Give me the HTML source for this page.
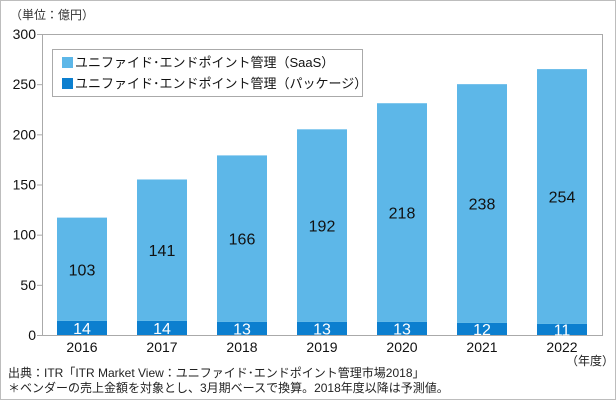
<!DOCTYPE html>
<html><head><meta charset="utf-8"><style>
body{margin:0;background:#fff}
svg{display:block;font-family:"Liberation Sans","Noto Sans CJK JP",sans-serif}
</style></head><body>
<svg id="c" width="616" height="400">
<rect x="0.5" y="0.5" width="615" height="399" fill="#fff" stroke="#bdbdbd"/>
<text x="10" y="19" font-size="12" fill="#333">（単位：億円）</text>
<rect x="42.5" y="34.5" width="560" height="301" fill="none" stroke="#aaa"/>
<g id="yax"></g>
<g id="bars"></g>
<g id="xax"></g>
<g>
<rect x="52.5" y="49.5" width="310" height="47" fill="#fff" stroke="#aaa"/>
<rect x="62" y="57" width="11" height="11" fill="#5db7e8"/>
<text x="75" y="67" font-size="13" fill="#111">ユニファイド･エンドポイント管理（SaaS）</text>
<rect x="62" y="78" width="11" height="11" fill="#0c7fcf"/>
<text x="75" y="88" font-size="13" fill="#111">ユニファイド･エンドポイント管理（パッケージ）</text>
</g>
<text x="566" y="365" font-size="12" fill="#222">（年度）</text>
<text x="8" y="377" font-size="12" fill="#222">出典：ITR「ITR Market View：ユニファイド･エンドポイント管理市場2018」</text>
<text x="8" y="392" font-size="12" fill="#222">＊ベンダーの売上金額を対象とし、3月期ベースで換算。2018年度以降は予測値。</text>
</svg>
<script>
const categories=["2016","2017","2018","2019","2020","2021","2022"];
const saas=[103,141,166,192,218,238,254];
const pkg=[14,14,13,13,13,12,11];
const yTicks=[0,50,100,150,200,250,300];
const NS="http://www.w3.org/2000/svg";
const X0=42,W=560,Y0=335,H=301,YMAX=300,BW=50;
const y=v=>Y0-v/YMAX*H;
const xc=i=>X0+W/categories.length*(i+0.5);
function mk(t,a,p){const e=document.createElementNS(NS,t);for(const k in a)e.setAttribute(k,a[k]);p.appendChild(e);return e;}
const yax=document.getElementById('yax'),bars=document.getElementById('bars'),xax=document.getElementById('xax');
yTicks.forEach(v=>{
 const l=mk('line',{x1:X0-5,x2:X0,y1:y(v)+0.5,y2:y(v)+0.5,stroke:'#aaa'},yax);
 
 
 const t=mk('text',{x:36,y:y(v)+5,'text-anchor':'end','font-size':14,fill:'#111'},yax);
 t.textContent=v;
 
 
});
categories.forEach((c,i)=>{
 const cx=xc(i);
 const rp=mk('rect',{x:cx-BW/2,y:y(pkg[i]),width:BW,height:Y0-y(pkg[i]),fill:'#0c7fcf'},bars);
 
 
 const top=pkg[i]+saas[i];
 const rs=mk('rect',{x:cx-BW/2,y:y(top),width:BW,height:y(pkg[i])-y(top),fill:'#5db7e8'},bars);
 
 
 const ts=mk('text',{x:cx,y:(y(top)+y(pkg[i]))/2+6,'text-anchor':'middle','font-size':16,fill:'#111'},bars);
 ts.textContent=saas[i];
 
 
 const tp=mk('text',{x:cx,y:(y(pkg[i])+Y0)/2+6,'text-anchor':'middle','font-size':16,fill:'#fff'},bars);
 tp.textContent=pkg[i];
 
 
 const tx=mk('text',{x:cx,y:352,'text-anchor':'middle','font-size':14,fill:'#111'},xax);
 tx.textContent=c;
 
 
});
</script>
</body></html>
